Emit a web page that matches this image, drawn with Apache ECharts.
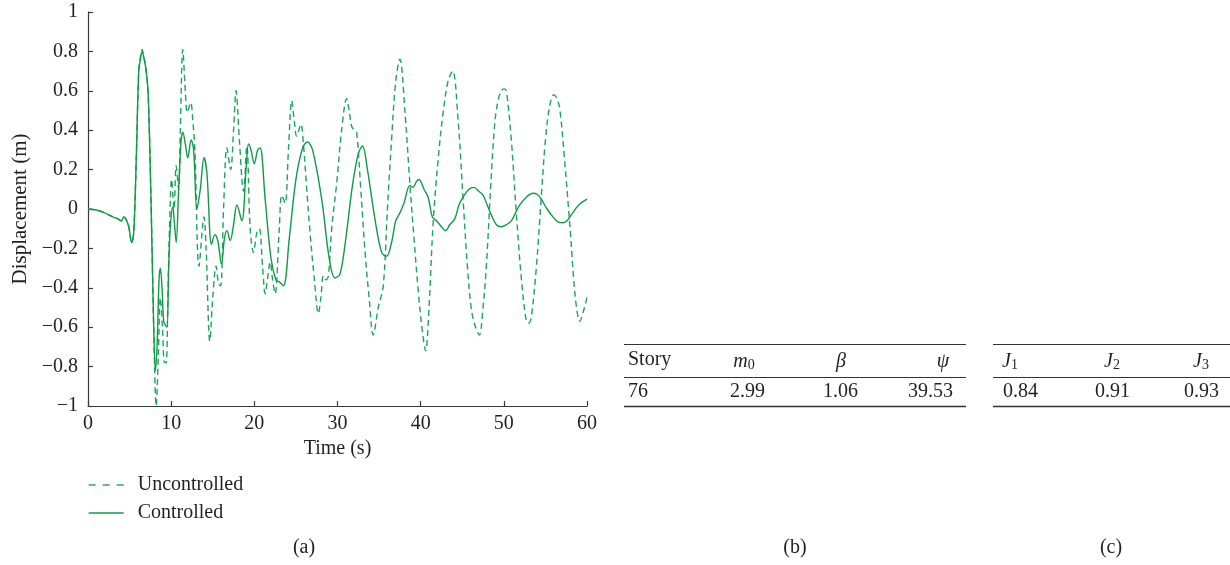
<!DOCTYPE html>
<html>
<head>
<meta charset="utf-8">
<script src="https://cdn.jsdelivr.net/npm/echarts@6/dist/echarts.min.js"></script>
<style>
  html, body { margin: 0; padding: 0; background: #fff; }
  #chart { width: 1230px; height: 565px; }
</style>
</head>
<body>
<div id="chart"></div>
<script>
// Roof displacement time histories (s, m)
const tControlled = [0, 1, 2, 3, 3.6, 4.0, 4.3, 4.6, 4.9, 5.25, 5.5, 5.8, 6.1, 6.3, 6.5, 6.7, 7.0, 7.25, 7.6, 7.9, 8.1, 8.3, 8.55, 8.7, 8.9, 9.1, 9.3, 9.5, 9.7, 9.9, 10.2, 10.35, 10.6, 10.9, 11.2, 11.4, 11.7, 12.0, 12.4, 12.7, 13.1, 13.5, 13.95, 14.3, 14.85, 15.25, 15.6, 16.05, 16.4, 16.7, 17.1, 17.5, 17.9, 18.5, 19.0, 19.3, 19.6, 20.0, 20.4, 20.7, 21.3, 22.0, 22.6, 23.0, 23.5, 24.2, 25.0, 25.8, 26.4, 27.0, 28.1, 29.0, 29.7, 30.3, 31.0, 31.8, 32.5, 33.0, 33.6, 34.5, 35.3, 35.9, 36.5, 37.0, 37.5, 38.0, 38.7, 39.1, 39.5, 39.8, 40.4, 40.9, 41.4, 41.9, 42.5, 43.0, 43.5, 44.1, 44.6, 45.1, 45.8, 46.4, 47.0, 47.5, 48.0, 48.5, 49.1, 49.7, 50.3, 50.9, 51.4, 51.9, 52.7, 53.5, 54.0, 54.5, 55.2, 55.9, 56.5, 57.1, 57.6, 58.1, 59.0, 60.0];
const vControlled = [0, -0.005, -0.02, -0.04, -0.05, -0.06, -0.04, -0.055, -0.09, -0.17, -0.12, 0.25, 0.7, 0.76, 0.8, 0.77, 0.7, 0.57, 0.0, -0.6, -0.82, -0.7, -0.35, -0.3, -0.4, -0.57, -0.59, -0.6, -0.3, -0.09, 0.01, -0.05, -0.17, 0.1, 0.35, 0.39, 0.33, 0.26, 0.35, 0.3, 0.0, 0.1, 0.26, 0.18, -0.18, -0.13, -0.16, -0.28, -0.15, -0.11, -0.16, -0.08, 0.02, -0.06, 0.2, 0.33, 0.3, 0.23, 0.3, 0.31, 0.05, -0.25, -0.36, -0.37, -0.39, -0.15, 0.15, 0.31, 0.34, 0.3, 0.05, -0.25, -0.35, -0.33, -0.15, 0.12, 0.28, 0.32, 0.2, -0.05, -0.22, -0.24, -0.17, -0.06, -0.02, 0.03, 0.12, 0.11, 0.14, 0.15, 0.1, 0.06, -0.04, -0.06, -0.09, -0.11, -0.08, -0.05, 0.02, 0.06, 0.1, 0.11, 0.09, 0.07, 0.02, -0.03, -0.08, -0.09, -0.08, -0.06, -0.02, 0.02, 0.06, 0.08, 0.075, 0.05, 0.0, -0.04, -0.065, -0.07, -0.06, -0.03, 0.02, 0.05];

const tUncontrolled = [0, 1, 2, 3, 3.6, 4.0, 4.3, 4.6, 4.9, 5.25, 5.5, 5.8, 6.1, 6.3, 6.5, 6.7, 7.0, 7.25, 7.6, 7.9, 8.2, 8.45, 8.7, 8.95, 9.2, 9.4, 9.6, 9.8, 10.05, 10.35, 10.6, 10.9, 11.1, 11.4, 11.7, 11.95, 12.35, 12.6, 12.85, 13.35, 13.95, 14.2, 14.65, 15.0, 15.4, 15.7, 15.95, 16.3, 16.7, 17.15, 17.5, 17.8, 18.2, 18.7, 19.1, 19.5, 19.9, 20.3, 20.6, 21.0, 21.3, 21.6, 21.9, 22.2, 22.5, 23.0, 23.3, 23.7, 24.1, 24.5, 24.8, 25.1, 25.6, 25.9, 26.3, 26.7, 27.2, 27.7, 28.0, 28.3, 28.6, 28.9, 29.3, 29.9, 30.5, 31.1, 31.4, 31.7, 32.0, 32.3, 32.8, 33.3, 33.8, 34.3, 34.9, 35.5, 36.0, 36.5, 37.0, 37.5, 38.1, 38.7, 39.2, 39.7, 40.2, 40.6, 41.0, 41.5, 42.1, 42.7, 43.3, 43.85, 44.5, 45.1, 45.6, 46.1, 46.6, 47.05, 47.5, 47.9, 48.4, 48.9, 49.3, 49.7, 50.0, 50.3, 50.9, 51.5, 52.1, 52.7, 53.0, 53.3, 53.9, 54.5, 55.0, 55.5, 56.0, 56.4, 56.75, 57.3, 57.95, 58.6, 59.15, 59.5, 60.0];
const vUncontrolled = [0, -0.005, -0.02, -0.04, -0.05, -0.06, -0.04, -0.055, -0.09, -0.17, -0.12, 0.25, 0.7, 0.77, 0.81, 0.78, 0.7, 0.57, 0.0, -0.6, -1.0, -0.75, -0.45, -0.6, -0.78, -0.78, -0.45, -0.1, 0.15, 0.0, 0.22, 0.1, 0.4, 0.81, 0.6, 0.49, 0.54, 0.45, 0.3, -0.29, -0.04, -0.2, -0.67, -0.45, -0.29, -0.38, -0.39, 0.0, 0.31, 0.2, 0.4, 0.6, 0.35, 0.09, 0.32, -0.1, -0.22, -0.12, -0.1, -0.3, -0.43, -0.35, -0.27, -0.36, -0.43, -0.1, 0.07, 0.03, 0.3, 0.55, 0.45, 0.37, 0.43, 0.33, 0.1, -0.12, -0.35, -0.53, -0.45, -0.34, -0.36, -0.34, -0.1, 0.13, 0.4, 0.56, 0.5, 0.42, 0.4, 0.39, 0.1, -0.21, -0.45, -0.64, -0.5, -0.39, 0.0, 0.35, 0.65, 0.76, 0.5, 0.13, -0.15, -0.41, -0.62, -0.72, -0.5, -0.07, 0.25, 0.49, 0.65, 0.7, 0.45, 0.05, -0.28, -0.51, -0.6, -0.64, -0.5, -0.29, 0.1, 0.43, 0.55, 0.6, 0.61, 0.6, 0.35, -0.02, -0.35, -0.57, -0.58, -0.55, -0.3, 0.06, 0.35, 0.52, 0.58, 0.56, 0.5, 0.25, -0.09, -0.45, -0.57, -0.53, -0.45];

const xTicks = { min: 0, max: 60, interval: 10 };
const yTicks = { min: -1, max: 1, interval: 0.2 };

// Table (b): control parameters
const tableBHeaders = ['Story', 'm0', 'β', 'ψ'];
const tableBValues = ['76', '2.99', '1.06', '39.53'];
// Table (c): performance indices
const tableCHeaders = ['J1', 'J2', 'J3'];
const tableCValues = ['0.84', '0.91', '0.93'];

const panelLabels = ['(a)', '(b)', '(c)'];

const SERIF = '"Liberation Serif", "DejaVu Serif", serif';
const FS = 20;
const INK = '#231f20';
const AXIS = '#3a3a3a';
const GREEN_SOLID = '#0f9a48';
const GREEN_DASH = '#1ca45c';

function zip(ts, vs) { return ts.map((t, i) => [t, vs[i]]); }

function fmtTick(v) {
  const r = Math.round(v * 10) / 10;
  if (r === 0) return '0';
  return r < 0 ? '\u2212' + String(Math.abs(r)) : String(r);
}

// Rich-text header with italic symbol and subscript index
function symbolHeader(s) {
  if (s === 'Story') return 'Story';
  if (s.length === 2) return '{it|' + s[0] + '}{sub|' + s[1] + '}';
  return '{it|' + s + '}';
}
const richHeader = {
  it: { fontFamily: SERIF, fontStyle: 'italic', fontSize: FS, fill: INK, verticalAlign: 'bottom', lineHeight: 24 },
  sub: { fontFamily: SERIF, fontSize: 14, fill: INK, verticalAlign: 'bottom', lineHeight: 11 }
};

function cellText(x, y, str, align, header) {
  return {
    type: 'text', x: x, y: y,
    style: header ? {
      text: symbolHeader(str), rich: richHeader, fontFamily: SERIF, fontSize: FS, fill: INK,
      textAlign: align, textVerticalAlign: 'middle'
    } : {
      text: str, fontFamily: SERIF, fontSize: FS, fill: INK,
      textAlign: align, textVerticalAlign: 'middle'
    }
  };
}
function hline(x1, x2, y, w) {
  return { type: 'line', shape: { x1: x1, y1: y, x2: x2, y2: y }, style: { stroke: '#333', lineWidth: w } };
}

const graphics = [];
// table (b)
graphics.push(hline(624, 966, 344.5, 1), hline(624, 966, 377.5, 1), hline(624, 966, 406.5, 1.6));
const bHeadX = [628, 744, 841, 943];
const bValX = [628, 765, 858, 953];
tableBHeaders.forEach((h, i) => graphics.push(cellText(bHeadX[i], 360, h, i === 0 ? 'left' : 'center', i !== 0)));
tableBValues.forEach((v, i) => graphics.push(cellText(bValX[i], 392, v, i === 0 ? 'left' : 'right', false)));
// table (c)
graphics.push(hline(993, 1230, 344.5, 1), hline(993, 1230, 377.5, 1), hline(993, 1230, 406.5, 1.6));
const cHeadX = [1010, 1112, 1201];
const cValX = [1003, 1095, 1184];
tableCHeaders.forEach((h, i) => graphics.push(cellText(cHeadX[i], 360, h, 'center', true)));
tableCValues.forEach((v, i) => graphics.push(cellText(cValX[i], 392, v, 'left', false)));
// panel labels
const panelX = [304, 795, 1111];
panelLabels.forEach((s, i) => graphics.push(cellText(panelX[i], 548, s, 'center', false)));

const chart = echarts.init(document.getElementById('chart'), null, { renderer: 'canvas' });
chart.setOption({
  animation: false,
  backgroundColor: '#ffffff',
  textStyle: { fontFamily: SERIF, color: INK },
  grid: { left: 88, right: 643, top: 12, bottom: 159, containLabel: false },
  xAxis: {
    type: 'value', min: xTicks.min, max: xTicks.max, interval: xTicks.interval,
    name: 'Time (s)', nameLocation: 'middle', nameGap: 30,
    nameTextStyle: { fontFamily: SERIF, fontSize: FS, color: INK },
    axisLine: { show: true, onZero: false, lineStyle: { color: AXIS, width: 1.2 } },
    axisTick: { show: true, inside: true, length: 5, lineStyle: { color: AXIS, width: 1.2 } },
    axisLabel: { fontFamily: SERIF, fontSize: FS, color: INK, margin: 8 },
    splitLine: { show: false }
  },
  yAxis: {
    type: 'value', min: yTicks.min, max: yTicks.max, interval: yTicks.interval,
    name: 'Displacement (m)', nameLocation: 'middle', nameGap: 57,
    nameTextStyle: { fontFamily: SERIF, fontSize: 21, color: INK },
    axisLine: { show: true, onZero: false, lineStyle: { color: AXIS, width: 1.2 } },
    axisTick: { show: true, inside: true, length: 5, lineStyle: { color: AXIS, width: 1.2 } },
    axisLabel: { fontFamily: SERIF, fontSize: FS, color: INK, margin: 10, formatter: fmtTick },
    splitLine: { show: false }
  },
  legend: {
    orient: 'vertical', left: 83, top: 470, itemWidth: 35, itemHeight: 14, itemGap: 8,
    itemStyle: { opacity: 0 },
    textStyle: { fontFamily: SERIF, fontSize: FS, color: INK, padding: [0, 0, 0, 9] },
    data: [
      { name: 'Uncontrolled', lineStyle: { type: [7, 7], width: 1.4, color: GREEN_DASH } },
      { name: 'Controlled', lineStyle: { type: 'solid', width: 1.4, color: GREEN_SOLID } }
    ]
  },
  series: [
    {
      name: 'Uncontrolled', type: 'line', data: zip(tUncontrolled, vUncontrolled),
      showSymbol: false, symbol: 'none', smooth: 0.35, z: 2,
      lineStyle: { color: GREEN_DASH, width: 1.4, type: [6, 4] }, itemStyle: { color: GREEN_DASH }
    },
    {
      name: 'Controlled', type: 'line', data: zip(tControlled, vControlled),
      showSymbol: false, symbol: 'none', smooth: 0.35, z: 3,
      lineStyle: { color: GREEN_SOLID, width: 1.4, type: 'solid' }, itemStyle: { color: GREEN_SOLID }
    }
  ],
  graphic: graphics
});
</script>
</body>
</html>
